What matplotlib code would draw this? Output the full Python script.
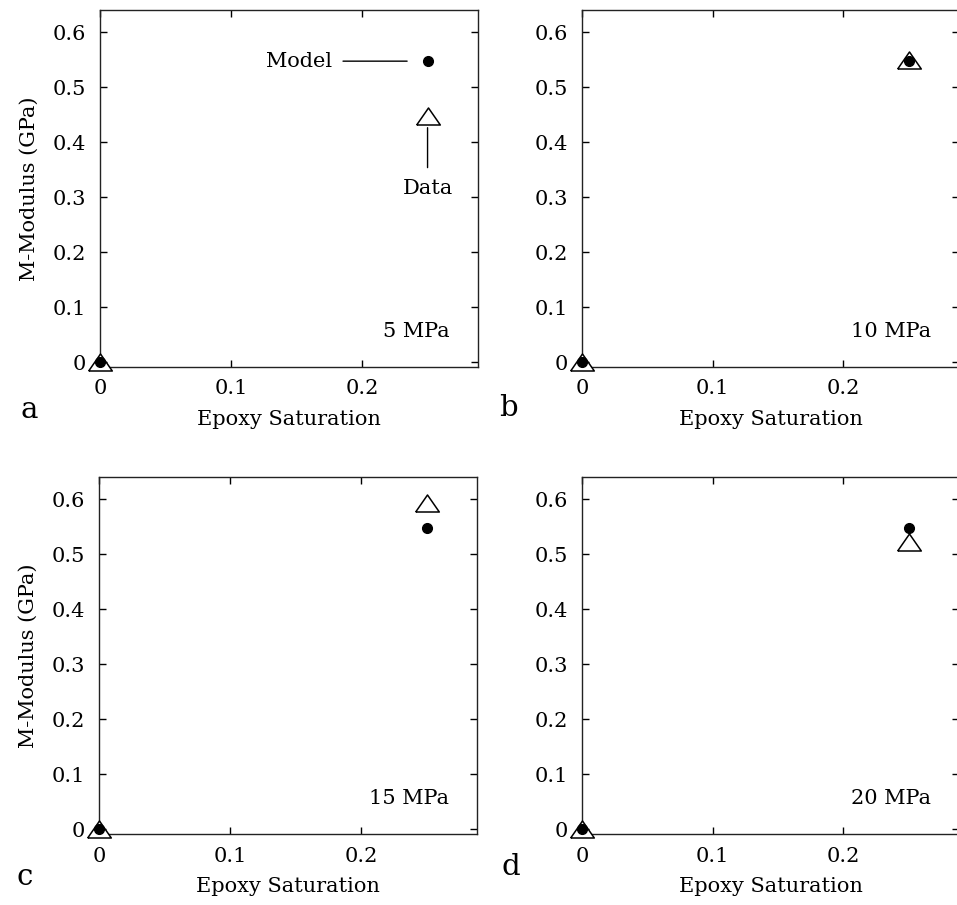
import matplotlib
matplotlib.use("Agg")
import matplotlib.pyplot as plt
from matplotlib.ticker import FuncFormatter

plt.rcParams['font.family'] = ['DejaVu Serif']

# Data
saturation = [0.0, 0.25]
model = [0.0, 0.547]
panels = ["a", "b", "c", "d"]
pressures = ["5 MPa", "10 MPa", "15 MPa", "20 MPa"]
data_vals = [
    [0.0, 0.447],
    [0.0, 0.55],
    [0.0, 0.593],
    [0.0, 0.522],
]
xticks = [0, 0.1, 0.2]
yticks = [0, 0.1, 0.2, 0.3, 0.4, 0.5, 0.6]

W, H = 957, 905
fig = plt.figure(figsize=(W / 100, H / 100), dpi=100)

# axes boxes in pixels: left, top, right, bottom
boxes = [
    (100, 10, 478, 367),
    (582, 10, 959, 367),
    (99, 477, 477, 834),
    (582, 477, 959, 834),
]
letter_pos = [(29, 410), (508, 408), (25, 877), (511, 867)]

tri = [(-1, -0.72), (1, -0.72), (0, 0.72), (-1, -0.72)]

fmt = FuncFormatter(lambda v, p: "0" if abs(v) < 1e-9 else f"{v:.1f}")
FS = 15

for i in range(4):
    l, t, r, b = boxes[i]
    ax = fig.add_axes([l / W, 1 - b / H, (r - l) / W, (b - t) / H])
    ax.set_xlim(0, 0.2885)
    ax.set_ylim(-0.009, 0.64)
    ax.set_xticks(xticks)
    ax.set_yticks(yticks)
    ax.xaxis.set_major_formatter(fmt)
    ax.yaxis.set_major_formatter(fmt)
    ax.tick_params(direction="in", top=True, right=True, length=5, width=1,
                   labelsize=FS, colors="black")
    ax.tick_params(axis="y", pad=10)
    ax.tick_params(axis="x", pad=9)
    for s in ax.spines.values():
        s.set_linewidth(1.0)
        s.set_color("#222222")

    ax.plot(saturation, data_vals[i], linestyle="none", marker=tri,
            markersize=17, markerfacecolor="white", markeredgecolor="black",
            markeredgewidth=1.1, clip_on=False, zorder=3)
    ax.plot(saturation, model, linestyle="none", marker="o", markersize=7,
            color="black", clip_on=False, zorder=4)

    ax.text(0.267, 0.056, pressures[i], ha="right", va="center", fontsize=FS)
    ax.set_xlabel("Epoxy Saturation", fontsize=FS, labelpad=8)
    if i % 2 == 0:
        ax.set_ylabel("M-Modulus (GPa)", fontsize=FS, labelpad=10)

    lx, ly = letter_pos[i]
    fig.text(lx / W, 1 - ly / H, panels[i], ha="center", va="center", fontsize=21)

    if i == 0:
        ax.annotate("Model", xy=(0.2344, 0.547), xytext=(0.177, 0.547),
                    ha="right", va="center", fontsize=FS,
                    arrowprops=dict(arrowstyle="-", color="black", lw=1,
                                    shrinkA=6, shrinkB=0))
        ax.annotate("Data", xy=(0.25, 0.426), xytext=(0.25, 0.316),
                    ha="center", va="center", fontsize=FS,
                    arrowprops=dict(arrowstyle="-", color="black", lw=1,
                                    shrinkA=6, shrinkB=0))

fig.savefig("out.png", dpi=100)
